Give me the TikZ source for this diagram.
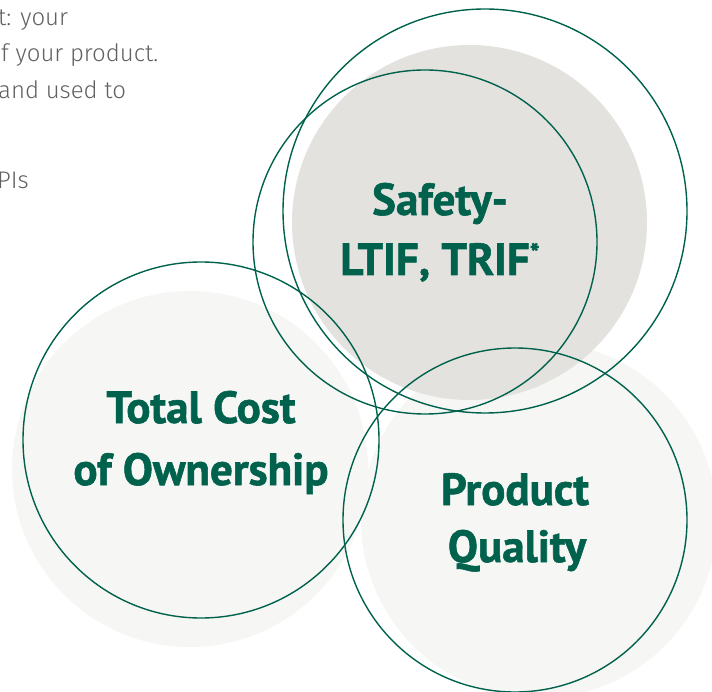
\documentclass[tikz,border=0pt]{standalone}
\usepackage{fontspec}
\setmainfont{PT Sans}
\newfontfamily\heavyfont{PT Sans Bold}[FakeBold=1.3]
\newfontfamily\lightfont{Fira Sans Light}
\definecolor{brandgreen}{HTML}{00624C}
\definecolor{paleA}{HTML}{F6F6F4}
\definecolor{paleB}{HTML}{E3E2DE}
\definecolor{bodygrey}{HTML}{606163}
\tikzset{
  disc/.style={circle, inner sep=0pt, outer sep=0pt, draw=none},
  ring/.style={circle, inner sep=0pt, outer sep=0pt, draw=brandgreen, line width=1.4pt, fill=none},
  bigtext/.style={anchor=base, text=brandgreen, inner sep=0pt, font=\heavyfont\fontsize{45}{45}\selectfont},
  bodytext/.style={anchor=base west, text=bodygrey, inner sep=0pt, font=\lightfont\fontsize{24}{24}\selectfont}
}
\begin{document}
\begin{tikzpicture}[x=1pt,y=-1pt]
\useasboundingbox (0,0) rectangle (712,692);
\clip (0,0) rectangle (712,692);
% body text fragments
\node[bodytext] (l1) at (-2,26) {t: your};
\node[bodytext] (l2) at (1,62) {f your product.};
\node[bodytext] (l3) at (-2,99) {and used to};
\node[bodytext] (l4) at (-3,189) {PIs};
% fills
\node[disc, fill=paleA, minimum size=356pt] (tcfill) at (190,469) {};
\node[disc, fill=paleA, minimum size=356pt] (pqfill) at (539,520) {};
\node[disc, fill=paleB, minimum size=355pt] (sfill) at (469.5,222.5) {};
% outlines
\node[ring, minimum size=404pt] (outer) at (485,211) {};
\node[ring, minimum size=344pt] (safety) at (425,242) {};
\node[ring, minimum size=356pt] (tco) at (201,440) {};
\node[ring, minimum size=344pt] (pq) at (515,520) {};
% labels
\node[bigtext] (s1) at (440,215) {Safety-};
\node[bigtext] (s2) at (440,275) {LTIF, TRIF\raisebox{13pt}{\fontsize{26}{26}\selectfont *}};
\node[bigtext] (t1) at (201,423) {Total Cost};
\node[bigtext] (t2) at (201,485) {of Ownership};
\node[bigtext] (p1) at (515,505) {Product};
\node[bigtext] (p2) at (517,562) {Quality};
\end{tikzpicture}
\end{document}
